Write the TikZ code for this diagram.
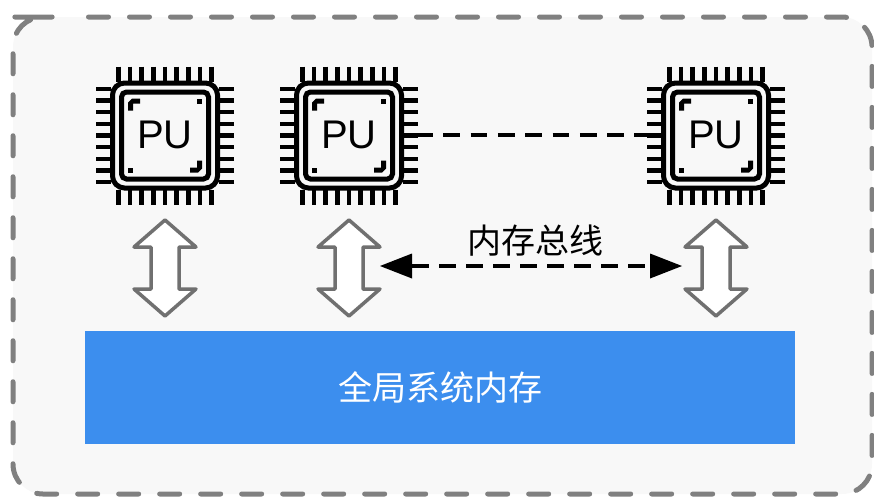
\documentclass[tikz,border=0pt]{standalone}
\usepackage{fontspec}
\setmainfont{Liberation Sans}
\newfontfamily\cjk{Noto Sans CJK SC}
\usetikzlibrary{arrows.meta}
\definecolor{panel}{HTML}{F8F8F8}
\definecolor{edgegray}{HTML}{808080}
\definecolor{arrowgray}{HTML}{707070}
\definecolor{membar}{HTML}{3C8EEE}
\tikzset{
  panelbox/.style={draw=edgegray,fill=panel,line width=5pt,rounded corners=30pt,dash pattern=on 20pt off 21pt,dash phase=25.5pt,line cap=round},
  chipline/.style={draw=black,line width=5pt},
  memblock/.style={fill=membar,draw=none},
  updown/.style={draw=arrowgray,fill=white,line width=3.5pt,line join=round},
  chiplink/.style={draw=black,line width=4pt,dash pattern=on 16.7pt off 10.6pt,dash phase=2pt},
  busarrow/.style={draw=black,line width=4pt,dash pattern=on 16.7pt off 10.3pt,{Triangle[length=32pt,width=25pt,line width=0pt]}-{Triangle[length=32pt,width=25pt,line width=0pt]}},
}
\newcommand{\chipat}[3]{%
  \begin{scope}[shift={(#1,135.5)}]
    \foreach \k in {-4,...,4}{
      \draw[chipline,line width=4.6pt] (\k*11.67,-69)--(\k*11.67,-54);
      \draw[chipline,line width=4.6pt] (\k*11.67,69)--(\k*11.67,54);
      \draw[chipline,line width=4.6pt] (-69,\k*11.67)--(-54,\k*11.67);
      \draw[chipline,line width=4.6pt] (69,\k*11.67)--(54,\k*11.67);
    }
    \draw[chipline,fill=panel,rounded corners=12pt] (-52.5,-52.5) rectangle (52.5,52.5);
    \draw[chipline,fill=panel,rounded corners=5pt] (-43.5,-43.5) rectangle (43.5,43.5);
    \fill (-37,-25)--(-37,-33)--(-33,-37)--(-25,-37)--(-25,-32)--(-32,-32)--(-32,-25)--cycle;
    \fill (37,25)--(37,33)--(33,37)--(25,37)--(25,32)--(32,32)--(32,25)--cycle;
    \fill (32,-37) rectangle (37,-32);
    \fill (-37,32) rectangle (-32,37);
    \node (#3) at (0,-0.5) {\fontsize{40}{40}\selectfont #2};
  \end{scope}}
\newcommand{\updownat}[2]{%
  \draw[updown] (#1,220)--(#1+31,247)--(#1+14,247)--(#1+14,289)--(#1+31,289)--(#1,316)--(#1-31,289)--(#1-14,289)--(#1-14,247)--(#1-31,247)--cycle;
  \coordinate (#2) at (#1,266);}
\begin{document}
\begin{tikzpicture}[x=1pt,y=-1pt]
\useasboundingbox (0,0) rectangle (874,496);
\draw[panelbox] (43,17) -- (872,17) -- (872,494) -- (13,494) -- (13,17) -- cycle;
\chipat{165}{PU}{pua}
\chipat{349}{PU}{pub}
\chipat{716}{PU}{puc}
\draw[chiplink] ([xshift=69pt]pub.center) -- ([xshift=-69pt]puc.center);
\updownat{165}{ua}
\updownat{349}{ub}
\updownat{716}{uc}
\draw[busarrow] ([xshift=31pt]ub) -- ([xshift=-34pt]uc);
\node (lbl) at (535,241) {\cjk\fontsize{34}{34}\selectfont 内存总线};
\node[memblock,minimum width=710pt,minimum height=113pt,inner sep=0pt,text=white] (mem) at (440,387.5) {\cjk\fontsize{34}{34}\selectfont 全局系统内存};
\end{tikzpicture}
\end{document}
